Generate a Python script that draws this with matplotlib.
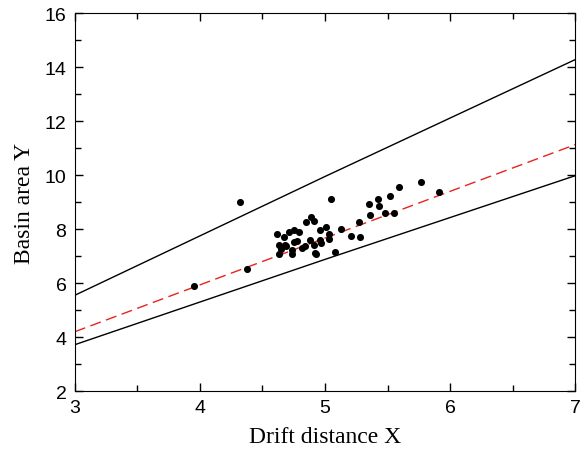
import matplotlib.pyplot as plt
from matplotlib.ticker import MultipleLocator

# scatter data (drift distance X, basin area Y)
x_pts = [3.95, 4.32, 4.38, 4.62, 4.63, 4.63, 4.67, 4.65, 4.68, 4.69,
         4.71, 4.74, 4.74, 4.75, 4.75, 4.78, 4.79, 4.82, 4.84, 4.85,
         4.88, 4.89, 4.91, 4.91, 4.92, 4.93, 4.96, 4.96, 4.97, 5.01,
         5.03, 5.03, 5.05, 5.08, 5.13, 5.21, 5.27, 5.28, 5.35, 5.36,
         5.42, 5.43, 5.48, 5.52, 5.55, 5.59, 5.77, 5.91]
y_pts = [5.90, 9.02, 6.51, 7.83, 7.43, 7.09, 7.71, 7.27, 7.40, 7.39,
         7.89, 7.07, 7.22, 7.98, 7.54, 7.55, 7.90, 7.30, 7.37, 8.27,
         7.61, 8.46, 8.32, 7.40, 7.12, 7.09, 7.95, 7.61, 7.49, 8.07,
         7.63, 7.83, 9.11, 7.14, 7.99, 7.76, 8.26, 7.71, 8.94, 8.53,
         9.11, 8.86, 8.61, 9.22, 8.61, 9.55, 9.73, 9.38]

# fitted line and bounds
x_line = [3, 5, 7]
y_fit = [4.20, 7.67, 11.13]
y_upper = [5.55, 9.95, 14.28]
y_lower = [3.72, 6.88, 9.98]

plt.rcParams['font.family'] = ['Liberation Sans', 'DejaVu Sans']
plt.rcParams['xtick.direction'] = 'in'
plt.rcParams['ytick.direction'] = 'in'

fig = plt.figure(figsize=(5.84, 4.56), dpi=100)
ax = fig.add_axes([0.128, 0.140, 0.857, 0.829])

ax.plot(x_line, y_upper, color='black', lw=1)
ax.plot(x_line, y_lower, color='black', lw=1)
ax.plot(x_line, y_fit, color='#e8231f', lw=1, dashes=(8, 4))
ax.scatter(x_pts, y_pts, s=26, color='black', zorder=3, linewidths=0)

ax.set_xlim(3, 7)
ax.set_ylim(2, 16)
ax.xaxis.set_major_locator(MultipleLocator(1))
ax.xaxis.set_minor_locator(MultipleLocator(0.5))
ax.yaxis.set_major_locator(MultipleLocator(2))
ax.yaxis.set_minor_locator(MultipleLocator(1))
ax.tick_params(which='both', top=True, right=True, labelsize=14, width=1)
ax.tick_params(which='major', length=6, pad=6)
ax.tick_params(which='minor', length=4)

ax.set_xlabel('Drift distance X', family='Liberation Serif', fontsize=17, labelpad=7)
ax.set_ylabel('Basin area Y', family='Liberation Serif', fontsize=17, labelpad=7)

fig.savefig('out.png', dpi=100)
